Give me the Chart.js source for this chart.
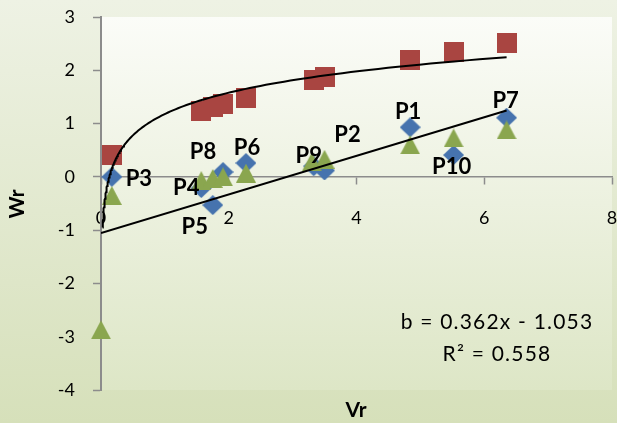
<!DOCTYPE html>
<html>
<head>
<meta charset="utf-8">
<script src="https://cdn.jsdelivr.net/npm/chart.js@4.4.0/dist/chart.umd.min.js"></script>
<style>
    html, body { margin: 0; padding: 0; background: #e4ebd2; }
    #chart { display: block; }
</style>
</head>
<body>
<canvas id="chart" width="617" height="423"></canvas>
<script>
// points P1..P10
const pointNames = ['P1', 'P2', 'P3', 'P4', 'P5', 'P6', 'P7', 'P8', 'P9', 'P10'];
const vr = [4.84, 3.5, 0.17, 1.57, 1.75, 2.27, 6.35, 1.91, 3.33, 5.52];
const redWr = [2.2, 1.88, 0.41, 1.24, 1.31, 1.48, 2.52, 1.37, 1.82, 2.35];
const blueWr = [0.93, 0.12, 0.0, -0.21, -0.53, 0.26, 1.11, 0.09, 0.2, 0.41];
// green series has one extra point at Vr = 0
const greenVr = [4.84, 3.5, 0.17, 1.57, 1.75, 2.27, 6.35, 1.91, 3.3, 5.52, 0];
const greenWr = [0.6, 0.33, -0.35, -0.07, -0.03, 0.07, 0.88, 0.0, 0.28, 0.73, -2.87];

// linear trend as printed on the chart: b = 0.362x - 1.053
const linSlope = 0.362;
const linIntercept = -1.053;
const linR2 = 0.558;

const xTicks = [0, 2, 4, 6, 8];
const yTicks = [-4, -3, -2, -1, 0, 1, 2, 3];

// label placement (pixels, relative to the blue diamond)
const labelShift = [[-2, -15], [23, -36], [27, 2], [-15, 0], [-18, 22], [1, -15], [-1, -17], [-20, -20], [-5, -10], [-2, 12]];

const FONT = 'Lato, "Open Sans", sans-serif';

function toPoints(xs, ys) {
    return xs.map((x, i) => ({ x: x, y: ys[i] }));
}

// logarithmic trend through the red series (least squares on ln x)
function logFit(xs, ys) {
    const lx = xs.map(v => Math.log(v));
    const n = xs.length;
    const mx = lx.reduce((a, b) => a + b, 0) / n;
    const my = ys.reduce((a, b) => a + b, 0) / n;
    let sxy = 0, sxx = 0;
    for (let i = 0; i < n; i++) {
        sxy += (lx[i] - mx) * (ys[i] - my);
        sxx += (lx[i] - mx) * (lx[i] - mx);
    }
    const a = sxy / sxx;
    return { a: a, b: my - a * mx };
}

const fit = logFit(vr, redWr);
const curve = [];
for (let i = 0; i <= 160; i++) {
    const x = 0.025 * Math.pow(6.35 / 0.025, i / 160);
    curve.push({ x: x, y: fit.a * Math.log(x) + fit.b });
}
const linLine = [0, 6.35].map(x => ({ x: x, y: linSlope * x + linIntercept }));

function makeMarker(shape, color) {
    const c = document.createElement('canvas');
    c.width = shape === 'diamond' ? 21 : 20;
    c.height = shape === 'triangle' ? 19 : 20;
    const g = c.getContext('2d');
    g.fillStyle = color;
    g.beginPath();
    if (shape === 'square') {
        g.rect(0, 0, 20, 20);
    } else if (shape === 'diamond') {
        g.moveTo(10.5, 0); g.lineTo(21, 10); g.lineTo(10.5, 20); g.lineTo(0, 10);
    } else {
        g.moveTo(10, 0); g.lineTo(20, 19); g.lineTo(0, 19);
    }
    g.closePath();
    g.fill();
    return c;
}

const backgroundPlugin = {
    id: 'panels',
    beforeDraw(chart) {
        const ctx = chart.ctx;
        const area = chart.chartArea;
        ctx.save();
        let g = ctx.createLinearGradient(0, 0, 0, chart.height);
        g.addColorStop(0, '#eef2e4');
        g.addColorStop(1, '#d6e0ba');
        ctx.fillStyle = g;
        ctx.fillRect(0, 0, chart.width, chart.height);
        g = ctx.createLinearGradient(0, area.top, 0, area.bottom);
        g.addColorStop(0, '#fbfcf8');
        g.addColorStop(1, '#dde6c6');
        ctx.fillStyle = g;
        ctx.fillRect(area.left, area.top, area.right - area.left, area.bottom - area.top);
        ctx.restore();
    }
};

const textPlugin = {
    id: 'texts',
    afterDatasetsDraw(chart) {
        const ctx = chart.ctx;
        const xs = chart.scales.x;
        const ys = chart.scales.y;
        ctx.save();
        ctx.fillStyle = '#000';
        ctx.textAlign = 'center';
        ctx.textBaseline = 'middle';
        ctx.font = 'bold 22px ' + FONT;
        pointNames.forEach((name, i) => {
            const px = xs.getPixelForValue(vr[i]) + labelShift[i][0];
            const py = ys.getPixelForValue(blueWr[i]) + labelShift[i][1];
            ctx.fillText(name, px, py);
        });

        ctx.font = '21px ' + FONT;
        ctx.letterSpacing = '1.2px';
        ctx.fillText('b = ' + linSlope + 'x - ' + Math.abs(linIntercept), 497, 322);
        ctx.fillText('R² = ' + linR2, 497, 354);
        ctx.letterSpacing = '0px';

        ctx.font = 'bold 21px ' + FONT;
        ctx.fillText('Vr', 356, 410);
        ctx.translate(17, 204);
        ctx.rotate(-Math.PI / 2);
        ctx.fillText('Wr', 0, 0);
        ctx.restore();
    }
};

const axisColor = '#8c8c8c';

function noPadding(scale) {
    scale.paddingTop = 0;
    scale.paddingBottom = 0;
    scale.paddingLeft = 0;
    scale.paddingRight = 0;
}

new Chart(document.getElementById('chart'), {
    type: 'scatter',
    data: {
        datasets: [
            {
                type: 'line', data: curve, borderColor: '#000', borderWidth: 2,
                pointRadius: 0, fill: false, tension: 0
            },
            {
                type: 'line', data: linLine, borderColor: '#000', borderWidth: 2,
                pointRadius: 0, fill: false
            },
            {
                data: toPoints(greenVr, greenWr), pointStyle: makeMarker('triangle', '#8aa64f'),
                pointRadius: 10, clip: false
            },
            {
                data: toPoints(vr, blueWr), pointStyle: makeMarker('diamond', '#4673ae'),
                pointRadius: 10, clip: false
            },
            {
                data: toPoints(vr, redWr), pointStyle: makeMarker('square', '#a94541'),
                pointRadius: 10, clip: false
            }
        ]
    },
    options: {
        responsive: false,
        animation: false,
        events: [],
        layout: { autoPadding: false, padding: { left: 0, top: 17, right: 5, bottom: 33 } },
        plugins: { legend: { display: false }, tooltip: { enabled: false } },
        scales: {
            x: {
                type: 'linear',
                min: 0,
                max: 8,
                position: { y: 0 },
                afterBuildTicks: scale => { scale.ticks = xTicks.map(v => ({ value: v })); },
                afterFit: noPadding,
                grid: { drawOnChartArea: false, tickLength: 7, tickColor: axisColor, tickWidth: 1.5 },
                border: { color: axisColor, width: 1.5 },
                ticks: { color: '#000', padding: 24, font: { family: FONT, size: 18 } }
            },
            y: {
                type: 'linear',
                min: -4,
                max: 3,
                position: 'left',
                afterBuildTicks: scale => { scale.ticks = yTicks.map(v => ({ value: v })); },
                afterFit: scale => { noPadding(scale); scale.width = 101; },
                grid: { drawOnChartArea: false, tickLength: 8, tickColor: axisColor, tickWidth: 1.5 },
                border: { color: axisColor, width: 2 },
                ticks: { color: '#000', padding: 18, font: { family: FONT, size: 18 } }
            }
        }
    },
    plugins: [backgroundPlugin, textPlugin]
});
</script>
</body>
</html>
